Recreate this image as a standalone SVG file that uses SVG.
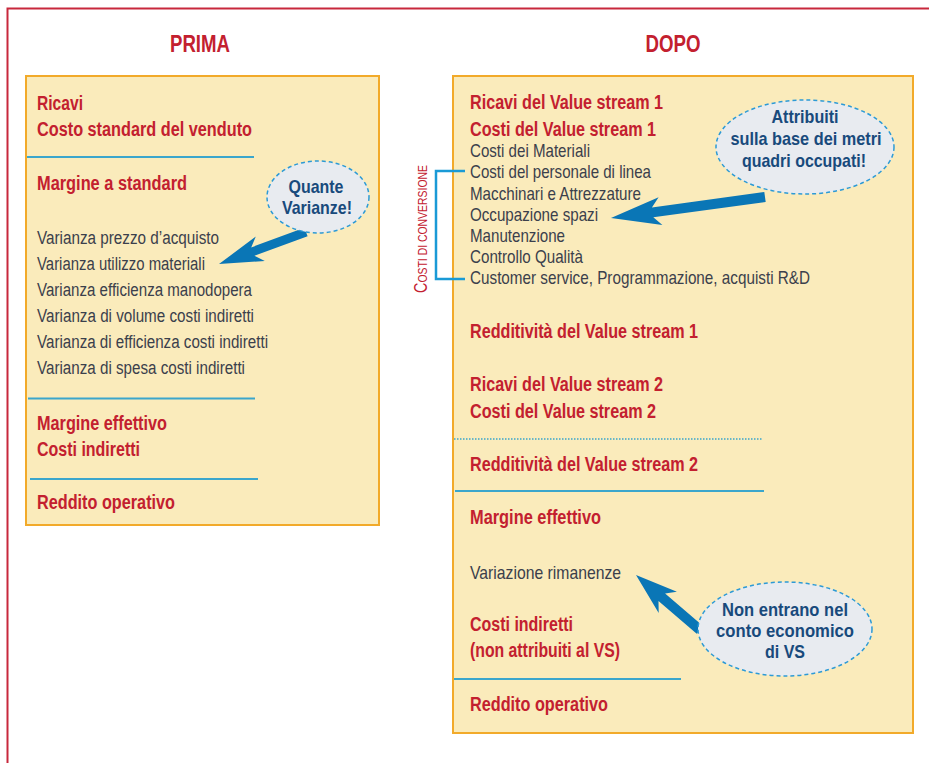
<svg xmlns="http://www.w3.org/2000/svg" width="929" height="763" viewBox="0 0 929 763">
<style>
text{font-family:"Liberation Sans Narrow","Liberation Sans",Arial,sans-serif}
.h{fill:#c3202f;font-weight:bold;font-size:20px}
.t{fill:#c3202f;font-weight:bold;font-size:23px}
.g{fill:#3b404c;font-size:18px}
.g2{fill:#3b404c;font-size:18.5px}
.b{fill:#184a7c;font-weight:bold;font-size:19px;text-anchor:middle}
.box{fill:#faebbb;stroke:#f2aa2a;stroke-width:2}
.sep{stroke:#3aa6cc;stroke-width:2;fill:none}
.bub{fill:#e8ebf0;stroke:#2c9ad6;stroke-width:1.5;stroke-dasharray:4 3}
.arr{fill:#0a76b6}
</style>
<rect width="929" height="763" fill="#fff"/>
<path d="M929 8.5H7.5V763" fill="none" stroke="#c8283c" stroke-width="2"/>

<g id="prima">
<text class="t" x="200" y="52" text-anchor="middle" textLength="60" lengthAdjust="spacingAndGlyphs">PRIMA</text>
<rect class="box" x="26" y="76" width="353" height="449"/>
<text class="h" x="37" y="110" textLength="46" lengthAdjust="spacingAndGlyphs">Ricavi</text>
<text class="h" x="37" y="136" textLength="215" lengthAdjust="spacingAndGlyphs">Costo standard del venduto</text>
<line class="sep" x1="27" y1="157" x2="254" y2="157"/>
<text class="h" x="37" y="190" textLength="150" lengthAdjust="spacingAndGlyphs">Margine a standard</text>
<text class="g" x="37" y="244" textLength="182" lengthAdjust="spacingAndGlyphs">Varianza prezzo d’acquisto</text>
<text class="g" x="37" y="270" textLength="168" lengthAdjust="spacingAndGlyphs">Varianza utilizzo materiali</text>
<text class="g" x="37" y="296" textLength="215" lengthAdjust="spacingAndGlyphs">Varianza efficienza manodopera</text>
<text class="g" x="37" y="322" textLength="217" lengthAdjust="spacingAndGlyphs">Varianza di volume costi indiretti</text>
<text class="g" x="37" y="348" textLength="231" lengthAdjust="spacingAndGlyphs">Varianza di efficienza costi indiretti</text>
<text class="g" x="37" y="374" textLength="208" lengthAdjust="spacingAndGlyphs">Varianza di spesa costi indiretti</text>
<line class="sep" x1="28" y1="398.5" x2="255" y2="398.5"/>
<text class="h" x="37" y="430" textLength="130" lengthAdjust="spacingAndGlyphs">Margine effettivo</text>
<text class="h" x="37" y="456" textLength="103" lengthAdjust="spacingAndGlyphs">Costi indiretti</text>
<line class="sep" x1="30" y1="479" x2="258" y2="479"/>
<text class="h" x="37" y="509" textLength="138" lengthAdjust="spacingAndGlyphs">Reddito operativo</text>
</g>

<g id="dopo">
<text class="t" x="673" y="52" text-anchor="middle" textLength="55" lengthAdjust="spacingAndGlyphs">DOPO</text>
<rect class="box" x="453" y="76" width="460" height="657"/>
<text class="h" x="470" y="109" textLength="193" lengthAdjust="spacingAndGlyphs">Ricavi del Value stream 1</text>
<text class="h" x="470" y="135.5" textLength="186" lengthAdjust="spacingAndGlyphs">Costi del Value stream 1</text>
<text class="g2" x="470" y="157" textLength="120" lengthAdjust="spacingAndGlyphs">Costi dei Materiali</text>
<text class="g2" x="470" y="178" textLength="181" lengthAdjust="spacingAndGlyphs">Costi del personale di linea</text>
<text class="g2" x="470" y="200" textLength="171" lengthAdjust="spacingAndGlyphs">Macchinari e Attrezzature</text>
<text class="g2" x="470" y="221" textLength="128" lengthAdjust="spacingAndGlyphs">Occupazione spazi</text>
<text class="g2" x="470" y="242" textLength="95" lengthAdjust="spacingAndGlyphs">Manutenzione</text>
<text class="g2" x="470" y="263" textLength="113" lengthAdjust="spacingAndGlyphs">Controllo Qualità</text>
<text class="g2" x="470" y="284" textLength="340" lengthAdjust="spacingAndGlyphs">Customer service, Programmazione, acquisti R&amp;D</text>
<text class="h" x="470" y="338" textLength="228" lengthAdjust="spacingAndGlyphs">Redditività del Value stream 1</text>
<text class="h" x="470" y="391" textLength="193" lengthAdjust="spacingAndGlyphs">Ricavi del Value stream 2</text>
<text class="h" x="470" y="418" textLength="186" lengthAdjust="spacingAndGlyphs">Costi del Value stream 2</text>
<line x1="454" y1="439" x2="762" y2="439" stroke="#3aa6cc" stroke-width="1.5" stroke-dasharray="1.5 1.5"/>
<text class="h" x="470" y="471" textLength="228" lengthAdjust="spacingAndGlyphs">Redditività del Value stream 2</text>
<line class="sep" x1="455" y1="491" x2="764" y2="491"/>
<text class="h" x="470" y="524" textLength="131" lengthAdjust="spacingAndGlyphs">Margine effettivo</text>
<text class="g2" x="470" y="579" textLength="151" lengthAdjust="spacingAndGlyphs">Variazione rimanenze</text>
<text class="h" x="470" y="631" textLength="103" lengthAdjust="spacingAndGlyphs">Costi indiretti</text>
<text class="h" x="470" y="657" textLength="150" lengthAdjust="spacingAndGlyphs">(non attribuiti al VS)</text>
<line class="sep" x1="454" y1="679" x2="681" y2="679"/>
<text class="h" x="470" y="711" textLength="138" lengthAdjust="spacingAndGlyphs">Reddito operativo</text>
</g>

<g id="costi-conversione">
<path d="M465 171H436V279H465" fill="none" stroke="#1a9ad6" stroke-width="2.5"/>
<text transform="translate(427,293) rotate(-90)" fill="#c3202f" textLength="128" lengthAdjust="spacingAndGlyphs"><tspan font-size="18">C</tspan><tspan font-size="13">OSTI DI CONVERSIONE</tspan></text>
</g>

<g id="connectors">
<polygon class="arr" points="219,264 264.8,261 254.4,255.8 307.6,236.2 304.4,227.8 251.2,247.4 255.8,236.6"/>
<polygon class="arr" points="611,218 662.4,225.1 653.3,217.3 765.7,202 764.3,192 651.9,207.4 658.6,197.3"/>
<polygon class="arr" points="636,575 676.9,591.8 665.1,593.4 703.3,626.2 696.7,633.8 658.5,601 658.7,613"/>
</g>

<g id="bubble-quante">
<ellipse class="bub" cx="318" cy="197" rx="51" ry="36"/>
<text class="b" x="316" y="193" textLength="55" lengthAdjust="spacingAndGlyphs">Quante</text>
<text class="b" x="317" y="214" textLength="70" lengthAdjust="spacingAndGlyphs">Varianze!</text>
</g>

<g id="bubble-attribuiti">
<ellipse class="bub" cx="805" cy="147" rx="89" ry="47"/>
<text class="b" x="805" y="123" textLength="67" lengthAdjust="spacingAndGlyphs">Attribuiti</text>
<text class="b" x="806" y="145" textLength="151" lengthAdjust="spacingAndGlyphs">sulla base dei metri</text>
<text class="b" x="804" y="167" textLength="124" lengthAdjust="spacingAndGlyphs">quadri occupati!</text>
</g>

<g id="bubble-non-entrano">
<ellipse class="bub" cx="785" cy="629" rx="87" ry="47"/>
<text class="b" x="785" y="616" textLength="126" lengthAdjust="spacingAndGlyphs">Non entrano nel</text>
<text class="b" x="785" y="637" textLength="138" lengthAdjust="spacingAndGlyphs">conto economico</text>
<text class="b" x="785" y="658" textLength="40" lengthAdjust="spacingAndGlyphs">di VS</text>
</g>
</svg>
